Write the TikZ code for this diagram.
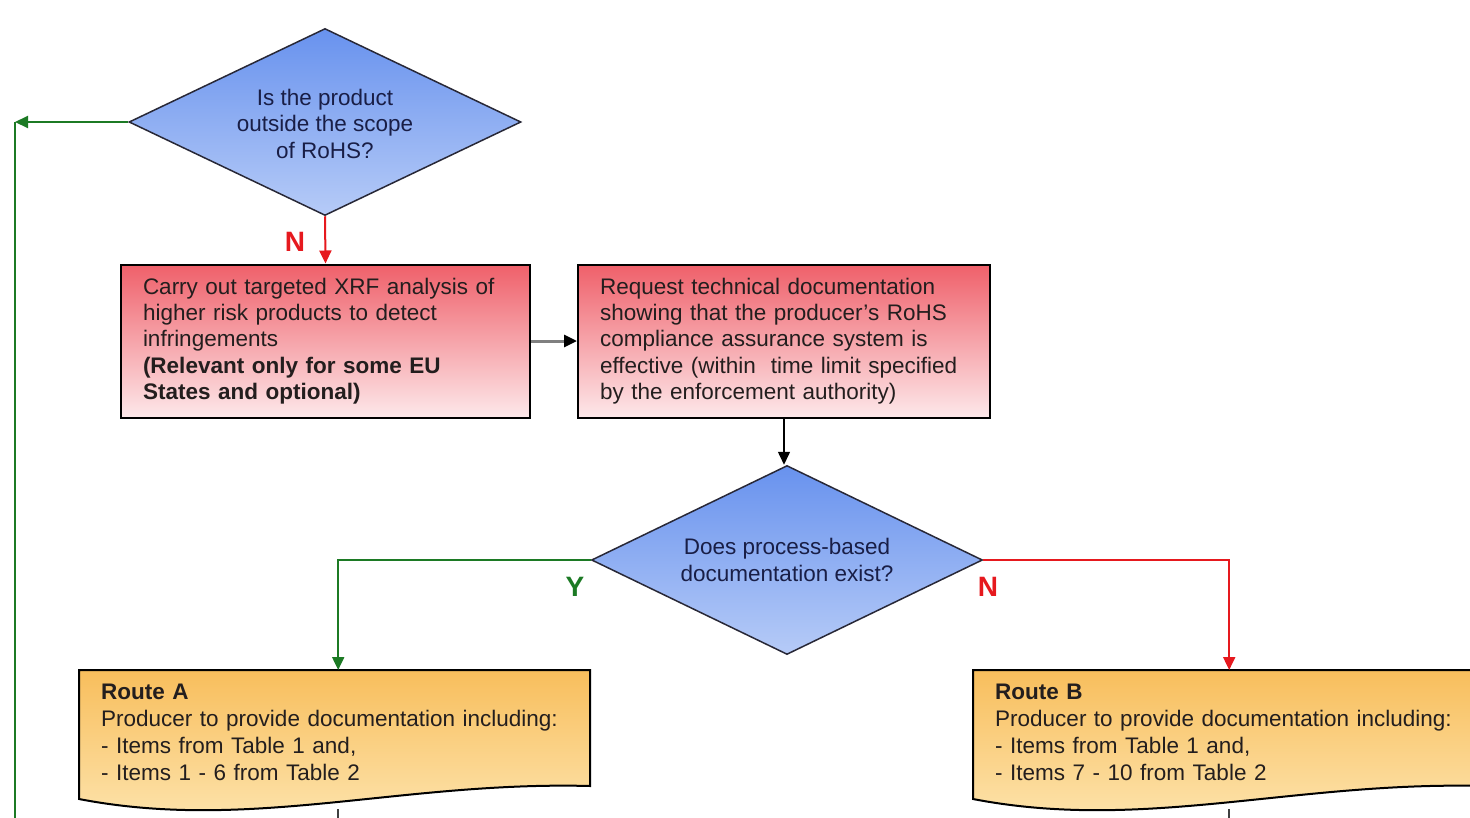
\documentclass[tikz,border=0pt]{standalone}
\usepackage{fontspec}
\setmainfont{Liberation Sans}
\usetikzlibrary{shapes.geometric,arrows.meta}
\definecolor{flowgreen}{RGB}{28,122,36}
\definecolor{flowred}{RGB}{230,25,30}
\definecolor{dtop}{RGB}{104,146,238}
\definecolor{dbot}{RGB}{182,203,247}
\definecolor{ptop}{RGB}{239,96,106}
\definecolor{pbot}{RGB}{253,232,234}
\definecolor{otop}{RGB}{248,190,92}
\definecolor{obot}{RGB}{253,230,178}
\definecolor{dtext}{RGB}{25,30,70}
\definecolor{btext}{RGB}{35,30,30}
\newcommand\dgfont{\fontsize{22.5pt}{26.3pt}\selectfont}
\newcommand\rtfont{\fontsize{22.5pt}{27pt}\selectfont}
\tikzset{
  decision/.style={diamond, aspect=2, inner sep=0pt, draw={rgb,255:red,40;green,40;blue,55}, line width=1.5pt,
     top color=dtop, bottom color=dbot, align=center, text=dtext, font=\dgfont},
  taskbox/.style={rectangle, draw=black, line width=2pt, top color=ptop, bottom color=pbot,
     align=left, text=btext, font=\dgfont, minimum height=153pt, inner xsep=22pt},
  routetext/.style={anchor=north west, align=left, text=btext, font=\rtfont, inner xsep=22pt, inner ysep=14pt},
  docshape/.style={draw=black, line width=2pt, top color=otop, bottom color=obot},
  tip/.style={-{Triangle[length=13pt,width=12pt]}},
  yesline/.style={draw=flowgreen, line width=2pt, tip},
  noline/.style={draw=flowred, line width=2pt, tip},
  ylabel/.style={text=flowgreen, font=\fontsize{28pt}{30pt}\selectfont\bfseries, inner sep=0pt},
  nlabel/.style={text=flowred, font=\fontsize{28pt}{30pt}\selectfont\bfseries, inner sep=0pt},
}
\begin{document}
\begin{tikzpicture}[x=1pt,y=-1pt]
\useasboundingbox (0,0) rectangle (1470,817);
\clip (0,0) rectangle (1470,817);
\fill[white] (0,0) rectangle (1470,817);

% route document shapes
\draw[docshape] (79,670) -- (590,670) -- (590,786)
   .. controls (400,781) and (250,832) .. (79,799) -- cycle;
\draw[docshape] (973,670) -- (1484,670) -- (1484,786)
   .. controls (1294,781) and (1144,832) .. (973,799) -- cycle;

% nodes
\node[decision, minimum width=392pt, minimum height=187pt] (d1) at (325,122)
  {\rule{0pt}{20pt}Is the product\\outside the scope\\of RoHS?};
\node[taskbox, text width=365pt] (b1) at (325.5,341)
  {Carry out targeted XRF analysis of\\higher risk products to detect\\infringements\\
   \textbf{(Relevant only for some EU}\\\textbf{States and optional)}};
\node[taskbox, text width=368pt] (b2) at (784,341)
  {Request technical documentation\\showing that the producer's RoHS\\compliance assurance system is\\
   effective (within\ \ time limit specified\\by the enforcement authority)};
\node[decision, minimum width=391pt, minimum height=189pt] (d2) at (787,560)
  {Does process-based\\documentation exist?};
\node[routetext, text width=474pt] (ra) at (79,670)
  {\textbf{Route A}\\Producer to provide documentation including:\\- Items from Table 1 and,\\- Items 1 - 6 from Table 2};
\node[routetext, text width=468pt] (rb) at (973,670)
  {\textbf{Route B}\\Producer to provide documentation including:\\- Items from Table 1 and,\\- Items 7 - 10 from Table 2};

% labels
\node[nlabel] (n1) at (295,242) {N};
\node[ylabel] (y2) at (575,587) {Y};
\node[nlabel] (n2) at (988,587) {N};

% coordinates
\coordinate (loopA) at (15,122);
\coordinate (loopB) at (15,830);
\coordinate (ea) at (338,809);
\coordinate (eaend) at (338,830);
\coordinate (eb) at (1229,809);
\coordinate (ebend) at (1229,830);

% connectors
\draw[yesline] (d1.west) -- (loopA);
\draw[draw=flowgreen, line width=2pt] (loopA) -- (loopB);
\draw[noline] (d1.south) -- (b1.north);
\draw[draw=gray, line width=3pt, -{Triangle[length=13pt,width=12pt,color=black]}] (b1.east) -- (b2.west);
\draw[line width=1.5pt, tip] (b2.south) -- (b2.south |- d2.north);
\draw[yesline] (d2.west) -| (ra.north);
\draw[noline] (d2.east) -| (rb.north);
\draw[draw=darkgray, line width=1.5pt] (ea) -- (eaend);
\draw[draw=darkgray, line width=1.5pt] (eb) -- (ebend);
\end{tikzpicture}
\end{document}
